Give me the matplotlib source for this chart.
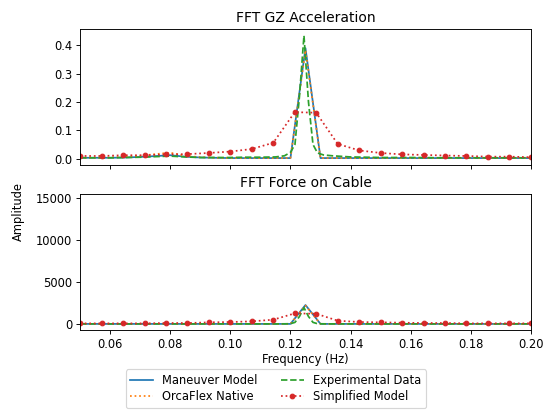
import matplotlib
matplotlib.use('Agg')
import matplotlib.pyplot as plt
import numpy as np

# model frequency grid (Hz)
f_model = [0.050, 0.055, 0.060, 0.065, 0.070, 0.075, 0.080, 0.085, 0.090, 0.095,
           0.100, 0.105, 0.110, 0.115, 0.120, 0.125, 0.130, 0.135, 0.140, 0.145,
           0.150, 0.155, 0.160, 0.165, 0.170, 0.175, 0.180, 0.185, 0.190, 0.195, 0.200]

gz_maneuver = [0.003, 0.003, 0.003, 0.004, 0.006, 0.009, 0.012, 0.007, 0.004, 0.003,
               0.002, 0.002, 0.002, 0.002, 0.002, 0.390, 0.002, 0.002, 0.002, 0.002,
               0.002, 0.002, 0.002, 0.002, 0.002, 0.002, 0.002, 0.002, 0.002, 0.002, 0.002]
gz_orcaflex = [0.003, 0.003, 0.004, 0.006, 0.010, 0.016, 0.021, 0.010, 0.005, 0.003,
               0.002, 0.002, 0.002, 0.002, 0.002, 0.383, 0.002, 0.002, 0.002, 0.002,
               0.002, 0.002, 0.002, 0.002, 0.002, 0.002, 0.002, 0.002, 0.002, 0.002, 0.002]

force_maneuver = [15, 15, 15, 15, 15, 15, 15, 15, 15, 15,
                  15, 15, 15, 15, 15, 2270, 15, 15, 15, 15,
                  15, 15, 15, 15, 15, 15, 15, 15, 15, 15, 15]
force_orcaflex = [15, 15, 15, 15, 15, 15, 15, 15, 15, 15,
                  15, 15, 15, 15, 15, 2200, 15, 15, 15, 15,
                  15, 15, 15, 15, 15, 15, 15, 15, 15, 15, 15]

# experimental data
f_exp = [0.050, 0.055, 0.060, 0.065, 0.070, 0.075, 0.080, 0.085, 0.090, 0.095,
         0.100, 0.105, 0.110, 0.115, 0.118, 0.120, 0.1215, 0.123, 0.1245, 0.126,
         0.1275, 0.129, 0.131, 0.134, 0.140, 0.145, 0.150, 0.160, 0.170, 0.180,
         0.190, 0.200]
gz_exp = [0.003, 0.003, 0.003, 0.004, 0.005, 0.007, 0.009, 0.006, 0.004, 0.004,
          0.004, 0.005, 0.005, 0.006, 0.010, 0.022, 0.050, 0.220, 0.434, 0.200,
          0.050, 0.020, 0.013, 0.010, 0.006, 0.005, 0.004, 0.004, 0.003, 0.003,
          0.003, 0.003]
force_exp = [20, 20, 20, 20, 20, 20, 20, 20, 20, 20,
             20, 20, 20, 20, 25, 40, 200, 900, 1950, 900,
             200, 40, 25, 20, 20, 20, 20, 20, 20, 20,
             20, 20]

# simplified model
f_simp = [k / 140 for k in range(7, 29)]
gz_simp = [0.0094, 0.0094, 0.012, 0.012, 0.015, 0.016, 0.020, 0.025, 0.034, 0.056,
           0.164, 0.162, 0.052, 0.029, 0.020, 0.015, 0.013, 0.011, 0.0094, 0.007,
           0.007, 0.005]
force_simp = [80, 80, 80, 80, 120, 120, 200, 240, 320, 520,
              1270, 1230, 400, 240, 200, 160, 120, 120, 80, 80,
              80, 80]

DPI = 83
fig = plt.figure(figsize=(545 / DPI, 410 / DPI), dpi=DPI)
ax1 = fig.add_axes([0.147, 0.598, 0.827, 0.331])
ax2 = fig.add_axes([0.147, 0.195, 0.827, 0.332], sharex=ax1)

for ax, man, orc, exp, simp in [(ax1, gz_maneuver, gz_orcaflex, gz_exp, gz_simp),
                                (ax2, force_maneuver, force_orcaflex, force_exp, force_simp)]:
    ax.plot(f_model, man, color='tab:blue', lw=1.5, label='Maneuver Model')
    ax.plot(f_model, orc, color='tab:orange', lw=1.5, ls=':', label='OrcaFlex Native')
    ax.plot(f_exp, exp, color='tab:green', lw=1.5, ls='--', label='Experimental Data')
    ax.plot(f_simp, simp, color='tab:red', lw=1.5, ls=':', marker='o', ms=4,
            label='Simplified Model')

ax1.set_title('FFT GZ Acceleration')
ax2.set_title('FFT Force on Cable')
ax1.set_xlim(0.05, 0.20)
ax1.set_ylim(-0.0218, 0.457)
ax2.set_ylim(-716, 15513)
ax1.set_yticks([0.0, 0.1, 0.2, 0.3, 0.4])
ax2.set_yticks([0, 5000, 10000, 15000])
ax2.set_xticks([0.06, 0.08, 0.10, 0.12, 0.14, 0.16, 0.18, 0.20])
plt.setp(ax1.get_xticklabels(), visible=False)
ax2.set_xlabel('Frequency (Hz)', labelpad=2)
fig.text(0.033, 0.483, 'Amplitude', rotation=90, ha='center', va='center')

handles, labels = ax1.get_legend_handles_labels()
fig.legend(handles, labels, ncol=2, loc='upper center', bbox_to_anchor=(0.506, 0.099),
           labelspacing=0.3, borderaxespad=0.0)

fig.savefig('out.png', dpi=DPI)
